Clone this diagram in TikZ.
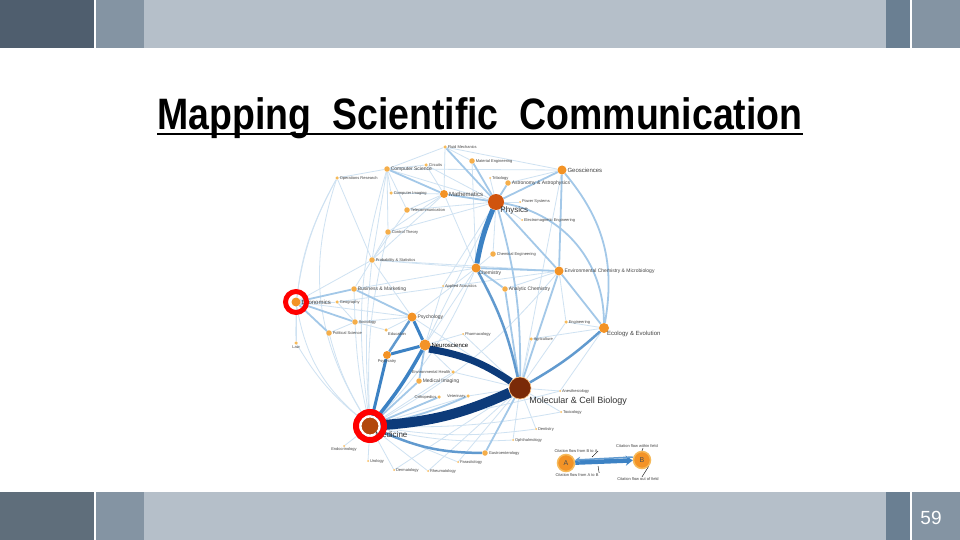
\documentclass[tikz,border=0pt]{standalone}
\usepackage{fontspec}
\setmainfont{Liberation Sans}
\usetikzlibrary{positioning}
\usetikzlibrary{arrows.meta}

\definecolor{barDark}{HTML}{4F5E6E}
\definecolor{barDarkB}{HTML}{5F6E7B}
\definecolor{barMid}{HTML}{8494A3}
\definecolor{barLight}{HTML}{B5BFC9}
\definecolor{barSlate}{HTML}{6A7F92}
\definecolor{edgeLt}{HTML}{CFE2F2}
\definecolor{edgeMd}{HTML}{A3C8E8}
\definecolor{edgeBl}{HTML}{3C82C4}
\definecolor{edgeDk}{HTML}{0D3B7A}
\definecolor{dotLt}{HTML}{F6BA5A}
\definecolor{dotMd}{HTML}{F39326}
\definecolor{dotPhys}{HTML}{D0540E}
\definecolor{dotMed}{HTML}{B3470C}
\definecolor{dotMcb}{HTML}{7A2A08}
\definecolor{lblGray}{HTML}{444444}

\pgfdeclarelayer{slide}
\pgfdeclarelayer{edges}
\pgfsetlayers{slide,edges,main}

\tikzset{
    tdot/.style={circle, fill=dotLt, inner sep=0pt, minimum size=3.5pt},
    sdot/.style={circle, fill=dotLt!70!dotMd, inner sep=0pt, minimum size=5.5pt},
    mdot/.style={circle, fill=dotMd, inner sep=0pt, minimum size=9pt},
    tl/.style={font=\fontsize{4}{4}\selectfont, text=lblGray, inner sep=0.6pt},
    sl/.style={font=\fontsize{5}{5}\selectfont, text=lblGray, inner sep=0.6pt},
    ml/.style={font=\fontsize{6}{6}\selectfont, text=lblGray, inner sep=0.6pt},
    bl/.style={font=\fontsize{8}{8}\selectfont, text=black!80, inner sep=0.6pt},
    lt/.style={draw=edgeLt, line width=0.8pt},
    lt2/.style={draw=edgeMd, line width=1.8pt},
    md/.style={draw=edgeBl!75!edgeLt, line width=2.5pt},
    bu/.style={draw=edgeBl, line width=3.5pt},
    dk/.style={draw=edgeDk},
    ring/.style={draw=red, line width=5pt},
    flow/.style={font=\fontsize{4}{4}\selectfont, text=black!75, inner sep=0.5pt},
    lead/.style={draw=black, line width=0.4pt},
    lgd/.style={circle, fill=dotMd, draw=dotLt, line width=1.5pt, minimum size=17pt,
        inner sep=0pt, font=\fontsize{7}{7}\selectfont, text=black!70}
}

\begin{document}
\begin{tikzpicture}[x=1pt, y=-1pt]
    \useasboundingbox (0,0) rectangle (960,540);
    \begin{pgfonlayer}{slide}
        \path [fill=white] (0,0) rectangle (960,540);
        \path [fill=barDark] (0,0) rectangle (94,48);
        \path [fill=barMid] (96,0) rectangle (144,48);
        \path [fill=barLight] (144,0) rectangle (886,48);
        \path [fill=barSlate] (886,0) rectangle (910,48);
        \path [fill=barMid] (912,0) rectangle (960,48);
        \path [fill=barDarkB] (0,492) rectangle (94,540);
        \path [fill=barMid] (96,492) rectangle (144,540);
        \path [fill=barLight] (144,492) rectangle (886,540);
        \path [fill=barSlate] (886,492) rectangle (910,540);
        \path [fill=barMid] (912,492) rectangle (960,540);
    \end{pgfonlayer}
    \path (931,518) node [font=\fontsize{19}{19}\selectfont, text=white] (pgno) {59};

    % title
    \path (480,130) node [anchor=base, inner sep=0pt, font=\fontsize{44}{44}\selectfont\bfseries]
        (ttl) {\scalebox{0.851}[1]{Mapping\ \ Scientific\ \ Communication}};
    \draw [line width=2pt] ([yshift=-4pt]ttl.base west) -- ([yshift=-4pt]ttl.base east);

    % fields
    \path (445,147) node [tdot, label={[tl]right:Fluid Mechanics}] (fluid) {};
    \path (472,161) node [sdot, label={[tl]right:Material Engineering}] (mateng) {};
    \path (426,165) node [tdot, label={[tl]right:Circuits}] (circ) {};
    \path (490,178) node [tdot, minimum size=2pt, label={[tl]right:Tribology}] (trib) {};
    \path (562,170) node [mdot, label={[ml]right:Geosciences}] (geo) {};
    \path (508,183) node [sdot, label={[sl]right:Astronomy \& Astrophysics}] (astro) {};
    \path (496,202) node [circle, fill=dotPhys, minimum size=16pt, inner sep=0pt,
        label={[bl, label distance=-3pt]below right:Physics}] (phys) {};
    \path (520,202) node [tdot, minimum size=2pt, label={[tl]right:Power Systems}] (power) {};
    \path (522,220) node [tdot, minimum size=2pt, label={[tl]right:Electromagnetic Engineering}] (emeng) {};
    \path (387,169) node [sdot, label={[sl]right:Computer Science}] (cs) {};
    \path (337,178) node [tdot, label={[tl]right:Operations Research}] (opres) {};
    \path (391,193) node [tdot, label={[tl]right:Computer Imaging}] (cimg) {};
    \path (444,194) node [mdot, minimum size=8pt, label={[ml]right:Mathematics}] (math) {};
    \path (407,210) node [sdot, label={[tl]right:Telecommunication}] (tele) {};
    \path (388,232) node [sdot, label={[tl]right:Control Theory}] (ctrl) {};
    \path (372,260) node [sdot, label={[tl]right:Probability \& Statistics}] (prob) {};
    \path (354,289) node [sdot, label={[sl]right:Business \& Marketing}] (bus) {};
    \path (296,302) node [mdot, label={[ml]right:Economics}] (econ) {};
    \path (337,302) node [tdot, label={[tl]right:Geography}] (geog) {};
    \path (355,322) node [sdot, label={[tl]right:Sociology}] (soc) {};
    \path (412,317) node [mdot, label={[sl]right:Psychology}] (psych) {};
    \path (386,330) node [tdot, label={[tl]below right:Education}] (edu) {};
    \path (329,333) node [sdot, label={[tl]right:Political Science}] (pol) {};
    \path (296,343) node [tdot, label={[tl]below:Law}] (law) {};
    \path (425,345) node [mdot, minimum size=11pt, label={[ml, text=black]right:Neuroscience}] (neuro) {};
    \path (443,286) node [tdot, minimum size=2pt, label={[tl]right:Applied Acoustics}] (acou) {};
    \path (463,334) node [tdot, minimum size=2pt, label={[tl]right:Pharmacology}] (pharm) {};
    \path (493,254) node [sdot, label={[tl]right:Chemical Engineering}] (chemeng) {};
    \path (476,268) node [mdot, label={[sl, label distance=-2pt]below right:Chemistry}] (chem) {};
    \path (559,271) node [mdot, label={[sl]right:Environmental Chemistry \& Microbiology}] (env) {};
    \path (505,289) node [sdot, label={[sl]right:Analytic Chemistry}] (anal) {};
    \path (566,322) node [tdot, label={[tl]right:Engineering}] (crop) {};
    \path (604,328) node [mdot, minimum size=10pt, label={[ml, label distance=-2pt]below right:Ecology \& Evolution}] (eco) {};
    \path (531,339) node [tdot, label={[tl]right:Agriculture}] (agri) {};
    \path (387,355) node [mdot, minimum size=8pt, label={[tl]below:Psychiatry}] (psychiatry) {};
    \path (453,372) node [tdot, label={[tl]left:Environmental Health}] (envh) {};
    \path (419,381) node [sdot, label={[sl]right:Medical Imaging}] (medimg) {};
    \path (439,397) node [tdot, label={[tl]left:Orthopedics}] (ortho) {};
    \path (468,396) node [tdot, label={[tl]left:Veterinary}] (vet) {};
    \path (370,426) node [circle, fill=dotMed, draw=white, line width=2pt, minimum size=19pt, inner sep=0pt,
        label={[bl, label distance=-4pt]below right:Medicine}] (med) {};
    \path (344,446) node [tdot, minimum size=2pt, label={[tl]below:Endocrinology}] (endo) {};
    \path (368,461) node [tdot, minimum size=2pt, label={[tl]right:Urology}] (uro) {};
    \path (394,470) node [tdot, minimum size=2pt, label={[tl]right:Dermatology}] (derm) {};
    \path (428,471) node [tdot, minimum size=2pt, label={[tl]right:Rheumatology}] (rheum) {};
    \path (458,462) node [tdot, minimum size=2pt, label={[tl]right:Parasitology}] (para) {};
    \path (520,388) node [circle, fill=dotMcb, draw=dotMd!60, line width=0.6pt, minimum size=22pt, inner sep=0pt,
        label={[font=\fontsize{9}{9}\selectfont, text=black!80, label distance=-3pt]below right:Molecular \& Cell Biology}] (mcb) {};
    \path (560,391) node [tdot, minimum size=2pt, label={[tl]right:Anesthesiology}] (anes) {};
    \path (561,412) node [tdot, minimum size=2pt, label={[tl]right:Toxicology}] (tox) {};
    \path (536,429) node [tdot, minimum size=2pt, label={[tl]right:Dentistry}] (dent) {};
    \path (513,440) node [tdot, minimum size=2pt, label={[tl]right:Ophthalmology}] (ophth) {};
    \path (485,453) node [sdot, label={[tl]right:Gastroenterology}] (gastro) {};

    % red marks
    \draw [ring] (econ) circle [radius=10.5];
    \draw [ring, line width=6pt] (med) circle [radius=14];

    % key
    \path (566,463) node [lgd] (fa) {A};
    \path (642,460) node [lgd] (fb) {B};
    \path (576,451) node [flow] (lba) {Citation flow from B to A};
    \path (637,446) node [flow] (lwi) {Citation flow within field};
    \path (577,475) node [flow] (lab) {Citation flow from A to B};
    \path (638,479) node [flow] (lout) {Citation flow out of field};
    \coordinate (pba) at (592,457);
    \coordinate (pab) at (598,466);
    \draw [lead] (lba.east) -- (pba);
    \draw [lead] (lab.north east) -- (pab);
    \draw [lead] ([xshift=6pt]lwi.south) -- (fb.north);
    \draw [lead] ([xshift=4pt]lout.north) -- (fb.south east);

    \begin{pgfonlayer}{edges}
        % faint links
        \draw [lt] (opres) -- (cs);
        \draw [lt] (opres) to [bend right=10] (econ);
        \draw [lt] (opres) -- (prob);
        \draw [lt] (opres) to [bend right=25] (med);
        \draw [lt] (opres) to [bend right=15] (law);
        \draw [lt] (cs) -- (fluid);
        \draw [lt] (cs) -- (circ);
        \draw [lt] (cs) -- (tele);
        \draw [lt] (cs) -- (ctrl);
        \draw [lt] (cs) -- (cimg);
        \draw [lt] (cs) -- (phys);
        \draw [lt] (cs) -- (prob);
        \draw [lt] (cs) to [bend right=12] (med);
        \draw [lt] (cs) -- (geo);
        \draw [lt] (cimg) -- (math);
        \draw [lt] (math) -- (tele);
        \draw [lt] (math) -- (ctrl);
        \draw [lt] (math) -- (fluid);
        \draw [lt] (math) -- (prob);
        \draw [lt] (math) -- (chem);
        \draw [lt] (circ) -- (phys);
        \draw [lt] (circ) -- (math);
        \draw [lt] (fluid) -- (mateng);
        \draw [lt] (fluid) -- (geo);
        \draw [lt] (tele) -- (phys);
        \draw [lt] (tele) -- (prob);
        \draw [lt] (ctrl) -- (prob);
        \draw [lt] (ctrl) to [bend right=8] (med);
        \draw [lt] (ctrl) -- (phys);
        \draw [lt] (prob) -- (econ);
        \draw [lt] (prob) -- (bus);
        \draw [lt] (prob) -- (psych);
        \draw [lt] (prob) -- (chem);
        \draw [lt] (prob) to [bend right=5] (med);
        \draw [lt] (prob) -- (env);
        \draw [lt] (econ) -- (geog);
        \draw [lt] (econ) -- (law);
        \draw [lt] (econ) to [bend right=20] (med);
        \draw [lt] (econ) -- (psych);
        \draw [lt] (bus) -- (psych);
        \draw [lt] (bus) -- (soc);
        \draw [lt] (bus) -- (chem);
        \draw [lt] (soc) -- (psych);
        \draw [lt] (soc) -- (pol);
        \draw [lt] (soc) -- (edu);
        \draw [lt] (soc) to [bend right=5] (med);
        \draw [lt] (edu) -- (psych);
        \draw [lt] (pol) to [bend right=8] (med);
        \draw [lt] (law) to [bend right=10] (med);
        \draw [lt] (geog) -- (soc);
        \draw [lt] (geog) -- (env);
        \draw [lt] (acou) -- (neuro);
        \draw [lt] (acou) -- (phys);
        \draw [lt] (pharm) -- (neuro);
        \draw [lt] (pharm) -- (mcb);
        \draw [lt] (chem) -- (chemeng);
        \draw [lt] (chem) -- (neuro);
        \draw [lt] (chem) to [bend left=10] (med);
        \draw [lt] (phys) -- (chemeng);
        \draw [lt] (phys) -- (power);
        \draw [lt] (phys) -- (emeng);
        \draw [lt] (phys) -- (trib);
        \draw [lt] (phys) -- (neuro);
        \draw [lt] (env) -- (anal);
        \draw [lt] (env) -- (crop);
        \draw [lt] (env) to [bend left=10] (med);
        \draw [lt] (crop) -- (eco);
        \draw [lt] (crop) -- (mcb);
        \draw [lt] (agri) -- (eco);
        \draw [lt] (agri) -- (mcb);
        \draw [lt] (neuro) -- (envh);
        \draw [lt] (envh) -- (mcb);
        \draw [lt] (envh) -- (med);
        \draw [lt] (ortho) -- (med);
        \draw [lt] (vet) -- (mcb);
        \draw [lt] (vet) -- (med);
        \draw [lt] (med) -- (endo);
        \draw [lt] (med) -- (uro);
        \draw [lt] (med) -- (derm);
        \draw [lt] (med) -- (rheum);
        \draw [lt] (med) -- (para);
        \draw [lt] (med) to [bend right=8] (ophth);
        \draw [lt] (med) to [bend right=8] (dent);
        \draw [lt] (med) to [bend right=6] (tox);
        \draw [lt] (med) to [bend right=4] (anes);
        \draw [lt] (mcb) -- (dent);
        \draw [lt] (mcb) -- (ophth);
        \draw [lt] (mcb) -- (para);
        \draw [lt] (mcb) -- (anes);
        \draw [lt] (mcb) -- (tox);
        \draw [lt] (mcb) -- (rheum);
        \draw [lt] (mcb) -- (derm);
        \draw [lt] (mcb) -- (psych);
        \draw [lt] (mcb) -- (geo);
        \draw [lt] (eco) -- (anes);
        \draw [lt] (psych) -- (chem);
        \draw [lt] (astro) -- (geo);
        \draw [lt] (mateng) -- (chem);
        % stronger links
        \draw [lt2] (geo) -- (env);
        \draw [lt2] (geo) to [bend left=25] (eco);
        \draw [lt2] (phys) to [bend left=40] (eco);
        \draw [lt2] (phys) -- (math);
        \draw [lt2] (phys) -- (fluid);
        \draw [lt2] (phys) -- (mateng);
        \draw [lt2] (phys) -- (astro);
        \draw [lt2] (phys) -- (geo);
        \draw [lt2] (phys) -- (env);
        \draw [lt2] (phys) to [bend left=8] (mcb);
        \draw [lt2] (cs) -- (math);
        \draw [lt2] (env) -- (eco);
        \draw [lt2] (chem) -- (anal);
        \draw [lt2] (chem) -- (env);
        \draw [lt2] (anal) -- (mcb);
        \draw [lt2] (neuro) -- (medimg);
        \draw [lt2] (med) -- (medimg);
        \draw [lt2] (med) -- (ortho);
        \draw [lt2] (med) to [bend right=6] (vet);
        \draw [lt2] (mcb) -- (gastro);
        \draw [lt2] (econ) -- (bus);
        \draw [lt2] (econ) -- (pol);
        \draw [lt2] (econ) -- (soc);
        \draw [lt2] (psych) -- (bus);
        \draw [lt2] (env) -- (mcb);
        % main links
        \draw [md] (psych) -- (psychiatry);
        \draw [md] (med) to [bend right=12] (gastro);
        \draw [md] (chem) to [bend left=8] (mcb);
        \draw [md] (eco) to [bend left=6] (mcb);
        \draw [bu, line width=3pt] (psych) -- (neuro);
        \draw [bu, line width=3pt] (psychiatry) -- (neuro);
        \draw [bu, line width=3pt] (psychiatry) -- (med);
        \draw [bu] (neuro) to [bend left=5] (med);
        \draw [bu, line width=5pt] (phys) to [bend right=6] (chem);
        \draw [dk, line width=7pt] (neuro.south east) to [bend left=12] (mcb);
        \draw [dk, line width=10pt] (med) to [bend right=10] (mcb);
        % key arrows
        \draw [bu, line width=4.5pt, -{Stealth[length=7pt, width=10pt]}] (fa) -- (fb);
        \draw [md, line width=1.5pt, -{Stealth[length=5pt, width=6pt]}] ([yshift=3pt]fb.west) -- ([yshift=3pt]fa.east);
    \end{pgfonlayer}
\end{tikzpicture}
\end{document}
